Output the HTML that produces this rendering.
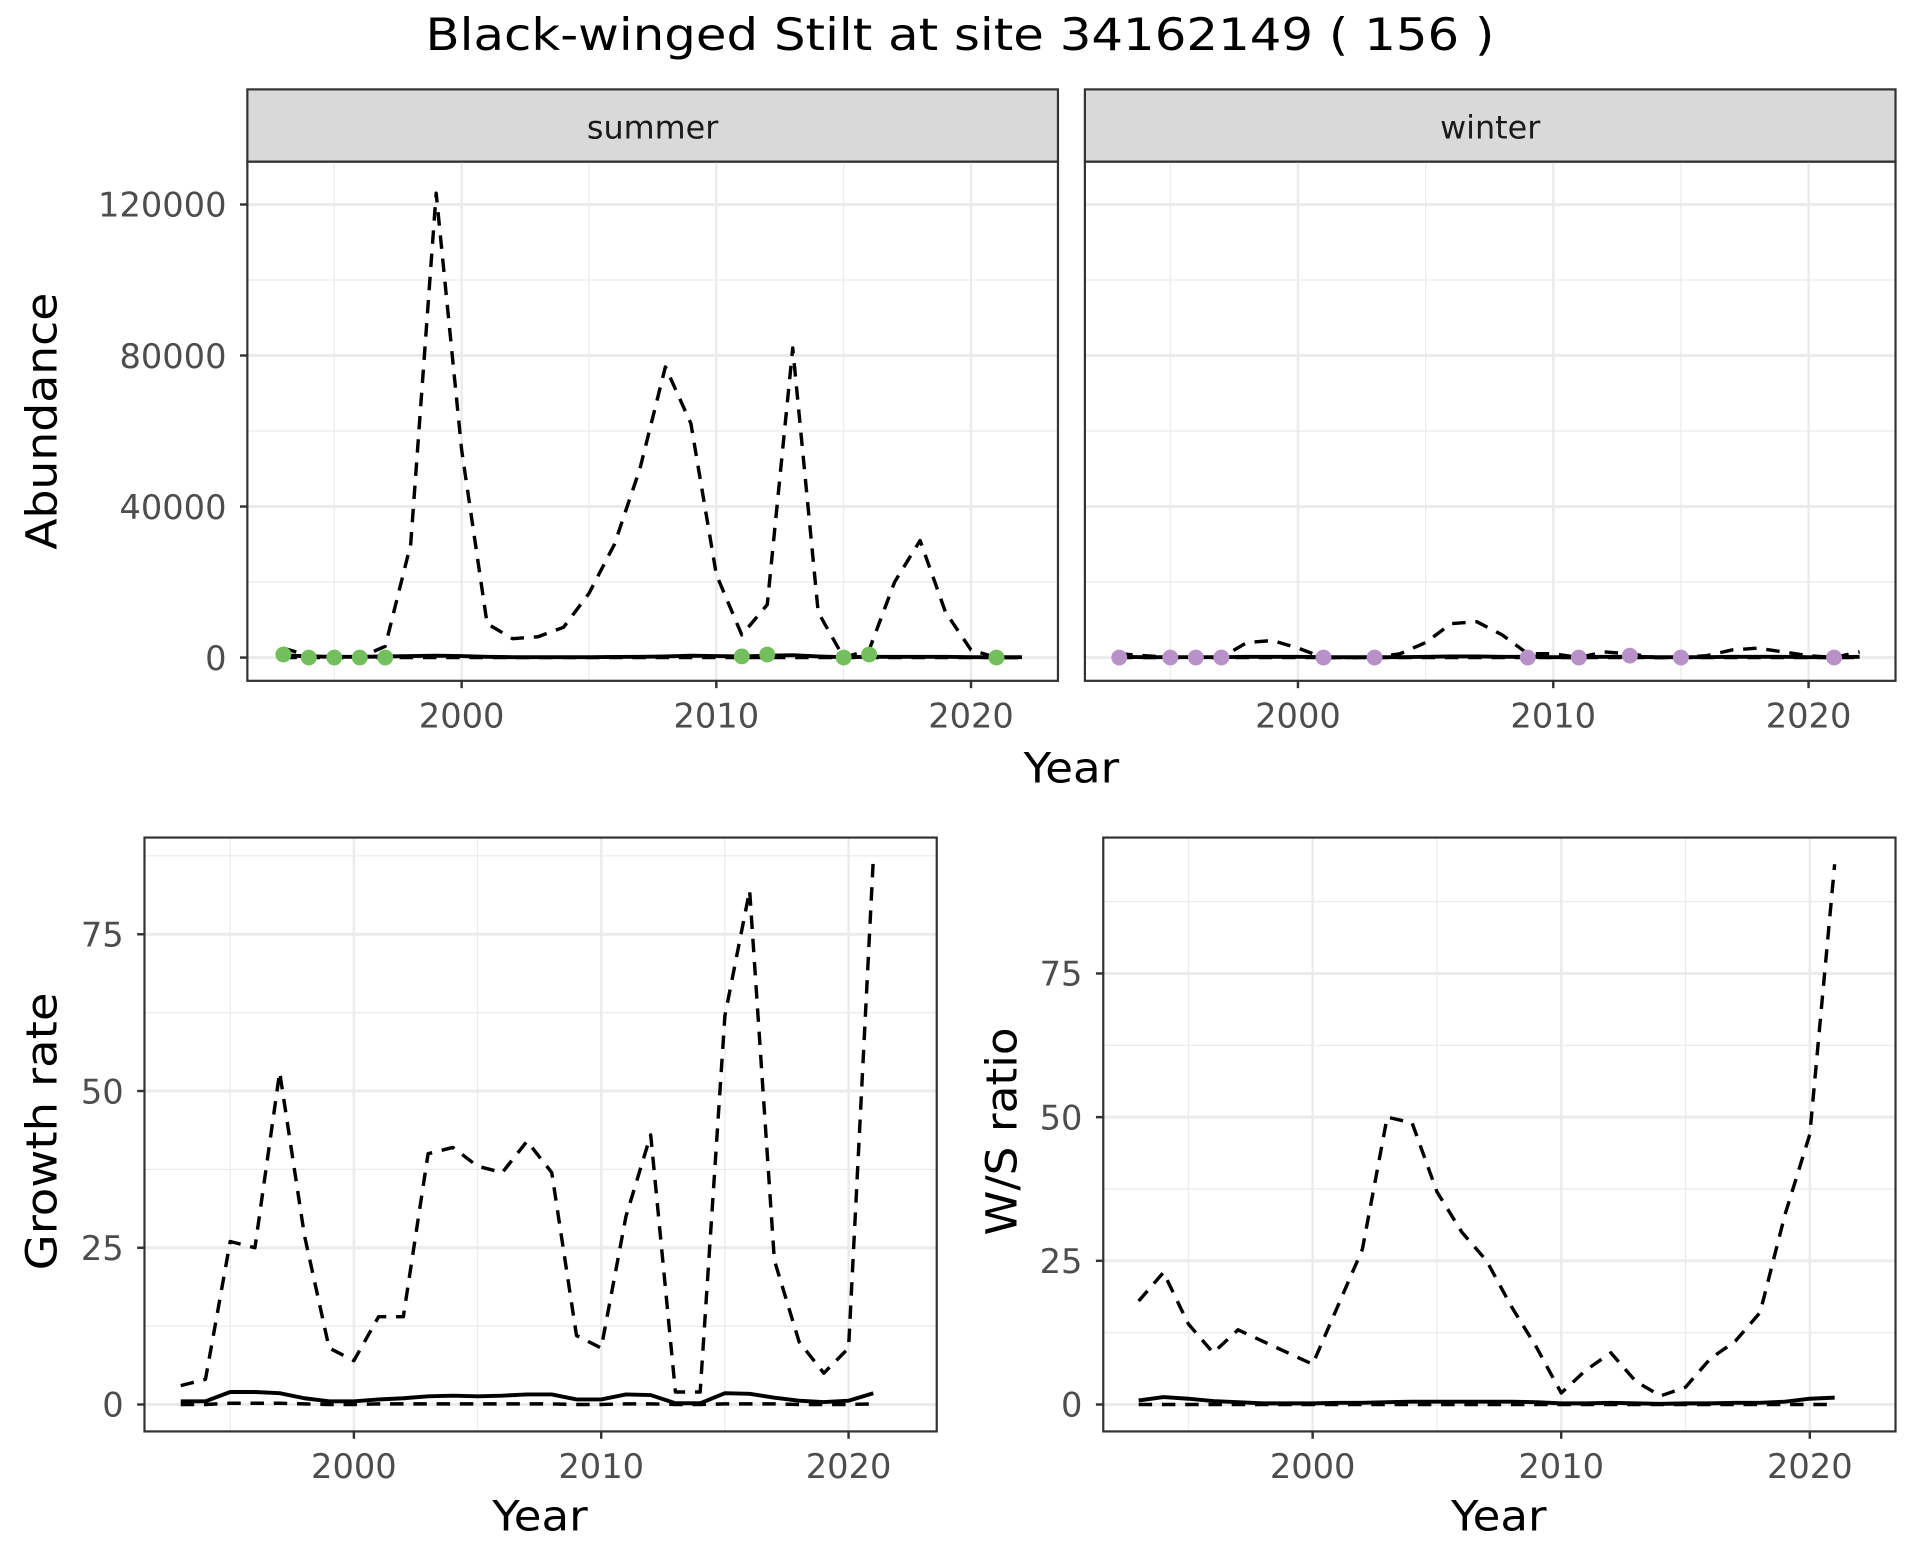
<!DOCTYPE html>
<html><head><meta charset="utf-8"><style>
html,body{margin:0;padding:0;background:#fff;}
svg{display:block;font-family:"DejaVu Sans","Liberation Sans",sans-serif;}
</style></head><body>
<svg id="root" width="1920" height="1560" viewBox="0 0 1568 1274" xmlns="http://www.w3.org/2000/svg">
<text x="784" y="41" text-anchor="middle" font-size="36" textLength="873" lengthAdjust="spacingAndGlyphs" fill="#000">Black-winged Stilt at site 34162149 ( 156 )</text>
<g id="g"></g>
</svg>
<script>
const years = [1993,1994,1995,1996,1997,1998,1999,2000,2001,2002,2003,2004,2005,2006,2007,2008,2009,2010,2011,2012,2013,2014,2015,2016,2017,2018,2019,2020,2021,2022];
const summerUpper = [2500,500,0,0,3000,30000,123000,55000,9000,5000,5500,8000,17000,30000,50000,77000,62000,22000,6000,14000,82000,12000,0,2000,20000,31000,12000,2000,0,0];
const summerMean = [600,300,200,200,300,400,500,400,200,100,100,100,100,150,200,300,500,400,300,500,600,300,100,200,200,200,200,100,100,100];
const summerLower = [0,0,0,0,0,0,0,0,0,0,0,0,0,0,0,0,0,0,0,0,0,0,0,0,0,0,0,0,0,0];
const summerObsYears = [1993,1994,1995,1996,1997,2011,2012,2015,2016,2021];
const summerObs = [800,0,0,0,0,300,800,0,800,0];
const winterUpper = [1000,500,0,0,0,4000,4500,2500,0,0,0,1000,4000,9000,9500,6000,1000,1000,0,1500,1000,0,0,500,2000,2500,1500,500,0,1500];
const winterMean = [200,100,100,100,100,200,200,200,100,100,100,100,200,300,300,200,200,100,100,200,200,100,100,100,200,200,200,100,100,200];
const winterLower = [0,0,0,0,0,0,0,0,0,0,0,0,0,0,0,0,0,0,0,0,0,0,0,0,0,0,0,0,0,0];
const winterObsYears = [1993,1995,1996,1997,2001,2003,2009,2011,2013,2015,2021];
const winterObs = [0,0,0,0,0,0,0,0,500,0,0];
const gYears = [1993,1994,1995,1996,1997,1998,1999,2000,2001,2002,2003,2004,2005,2006,2007,2008,2009,2010,2011,2012,2013,2014,2015,2016,2017,2018,2019,2020,2021];
const growthUpper = [3,4,26,25,53,27,9,7,14,14,40,41,38,37,42,37,11,9,30,43,2,2,62,82,23,10,5,9,87];
const growthMean = [0.5,0.5,2,2,1.8,1,0.5,0.5,0.8,1,1.3,1.4,1.3,1.4,1.6,1.6,0.8,0.8,1.6,1.5,0.2,0.2,1.8,1.7,1.1,0.6,0.4,0.6,1.8];
const growthLower = [0,0,0.2,0.2,0.2,0.1,0,0,0.1,0.1,0.1,0.1,0.1,0.1,0.1,0.1,0,0,0.1,0.1,0,0,0.1,0.1,0.1,0,0,0,0.1];
const ratioUpper = [18,23,14,9,13,11,9,7,17,27,50,49,37,30,25,17,10,2,6,9,4,1.5,3,8,11,16,33,47,94];
const ratioMean = [0.7,1.3,1,0.6,0.4,0.2,0.2,0.2,0.3,0.3,0.4,0.5,0.5,0.5,0.5,0.5,0.4,0.2,0.2,0.3,0.2,0.1,0.2,0.2,0.3,0.3,0.5,1,1.2];
const ratioLower = [0,0,0,0,0,0,0,0,0,0,0,0,0,0,0,0,0,0,0,0,0,0,0,0,0,0,0,0,0];
const abTicks = [0,40000,80000,120000];
const gTicks = [0,25,50,75];
const xTicks = [2000,2010,2020];

const NS="http://www.w3.org/2000/svg";
const G=document.getElementById('g');
function mk(tag,attrs,parent){const e=document.createElementNS(NS,tag);for(const k in attrs)e.setAttribute(k,attrs[k]);(parent||G).appendChild(e);return e;}
function scale(d0,d1,r0,r1){return v=>r0+(v-d0)*(r1-r0)/(d1-d0);}

function panel(o){
  const {x0,x1,y0,y1,sx,sy,yt,minorY,name}=o;
  const grp=mk('g',{});
  
  
  [1995,2005,2015].forEach(v=>{const l=mk('line',{x1:sx(v),x2:sx(v),y1:y0,y2:y1,stroke:'#ebebeb','stroke-width':1},grp);});
  minorY.forEach(v=>{const l=mk('line',{x1:x0,x2:x1,y1:sy(v),y2:sy(v),stroke:'#ebebeb','stroke-width':1},grp);});
  xTicks.forEach(v=>{const l=mk('line',{x1:sx(v),x2:sx(v),y1:y0,y2:y1,stroke:'#ebebeb','stroke-width':2},grp);});
  yt.forEach(v=>{const l=mk('line',{x1:x0,x2:x1,y1:sy(v),y2:sy(v),stroke:'#ebebeb','stroke-width':2.4},grp);});
  xTicks.forEach(v=>{mk('line',{x1:sx(v),x2:sx(v),y1:y1,y2:y1+6,stroke:'#333','stroke-width':2},grp);
    const t=mk('text',{x:sx(v),y:y1+38,'text-anchor':'middle','font-size':27.5,fill:'#4d4d4d'},grp);t.textContent=v;
    });
  if(o.showY){yt.forEach(v=>{mk('line',{x1:x0-6,x2:x0,y1:sy(v),y2:sy(v),stroke:'#333','stroke-width':2},grp);
    const t=mk('text',{x:x0-17,y:sy(v)+10,'text-anchor':'end','font-size':27.5,fill:'#4d4d4d'},grp);t.textContent=v;
    });}
  return grp;
}
function line(grp,xs,ys,sx,sy,dash,w,name){
  const d=xs.map((x,i)=>(i?'L':'M')+sx(x).toFixed(1)+','+sy(ys[i]).toFixed(1)).join('');
  const p=mk('path',{d:d,fill:'none',stroke:'#000','stroke-width':w,'stroke-dasharray':dash||'none','stroke-linejoin':'round'},grp);
  
  
}
function border(grp,x0,x1,y0,y1){const r=mk('rect',{x:x0,y:y0,width:x1-x0,height:y1-y0,fill:'none',stroke:'#333','stroke-width':1.8},grp);}
function strip(x0,x1,label,name){
  const r=mk('rect',{x:x0,y:73,width:x1-x0,height:59,fill:'#d9d9d9',stroke:'#333','stroke-width':1.8});
  
  const t=mk('text',{x:(x0+x1)/2,y:113,'text-anchor':'middle','font-size':26,fill:'#1a1a1a'});t.textContent=label;
  
}

const TY0=132, TY1=556;
const abY=scale(0,120000,537,167);
const absx=scale(2000,2020,377,793), awsx=scale(2000,2020,1060,1477);
strip(202,864,'summer','summer');strip(886,1548,'winter','winter');
const sp=panel({x0:202,x1:864,y0:TY0,y1:TY1,sx:absx,sy:abY,yt:abTicks,minorY:[20000,60000,100000],showY:true,name:'summer'});
line(sp,years,summerLower,absx,abY,'11,8',2.8,'summer-lower-line');
line(sp,years,summerUpper,absx,abY,'11,8',2.8,'summer-upper-line');
line(sp,years,summerMean,absx,abY,null,3.2,'summer-mean-line');
summerObsYears.forEach((y,i)=>{const c=mk('circle',{cx:absx(y),cy:abY(summerObs[i]),r:6.5,fill:'#74bf5d'},sp);});
border(sp,202,864,TY0,TY1);
const wp=panel({x0:886,x1:1548,y0:TY0,y1:TY1,sx:awsx,sy:abY,yt:abTicks,minorY:[20000,60000,100000],showY:false,name:'winter'});
line(wp,years,winterLower,awsx,abY,'11,8',2.8,'winter-lower-line');
line(wp,years,winterUpper,awsx,abY,'11,8',2.8,'winter-upper-line');
line(wp,years,winterMean,awsx,abY,null,3.2,'winter-mean-line');
winterObsYears.forEach((y,i)=>{const c=mk('circle',{cx:awsx(y),cy:abY(winterObs[i]),r:6.5,fill:'#b891c9'},wp);});
border(wp,886,1548,TY0,TY1);

const BY0=684, BY1=1169;
const gsx=scale(2000,2020,289,693), gsy=scale(0,75,1147,763);
const gp=panel({x0:118,x1:765,y0:BY0,y1:BY1,sx:gsx,sy:gsy,yt:gTicks,minorY:[12.5,37.5,62.5,87.5],showY:true,name:'growth'});
line(gp,gYears,growthLower,gsx,gsy,'11,8',2.8,'growth-lower-line');
line(gp,gYears,growthUpper,gsx,gsy,'11,8',2.8,'growth-upper-line');
line(gp,gYears,growthMean,gsx,gsy,null,3.2,'growth-mean-line');
border(gp,118,765,BY0,BY1);
const rsx=scale(2000,2020,1072,1478), rsy=scale(0,75,1147,795);
const rp=panel({x0:901,x1:1548,y0:BY0,y1:BY1,sx:rsx,sy:rsy,yt:gTicks,minorY:[12.5,37.5,62.5,87.5],showY:true,name:'ratio'});
line(rp,gYears,ratioLower,rsx,rsy,'11,8',2.8,'ratio-lower-line');
line(rp,gYears,ratioUpper,rsx,rsy,'11,8',2.8,'ratio-upper-line');
line(rp,gYears,ratioMean,rsx,rsy,null,3.2,'ratio-mean-line');
border(rp,901,1548,BY0,BY1);

function txt(x,y,s,fs,len,name,rot){const t=mk('text',{x:x,y:y,'text-anchor':'middle','font-size':fs,fill:'#000',textLength:len,lengthAdjust:'spacingAndGlyphs'});if(rot)t.setAttribute('transform','rotate(-90 '+x+' '+y+')');t.textContent=s;}
txt(875,639,'Year',34,78,'top-x-axis-title');
txt(46,344,'Abundance',35,210,'abundance-y-axis-title',true);
txt(441,1250,'Year',34,78,'growth-x-axis-title');
txt(1224,1250,'Year',34,78,'ratio-x-axis-title');
txt(46,924,'Growth rate',35,227,'growth-y-axis-title',true);
txt(830,924,'W/S ratio',35,170,'ratio-y-axis-title',true);
</script>
</body></html>
